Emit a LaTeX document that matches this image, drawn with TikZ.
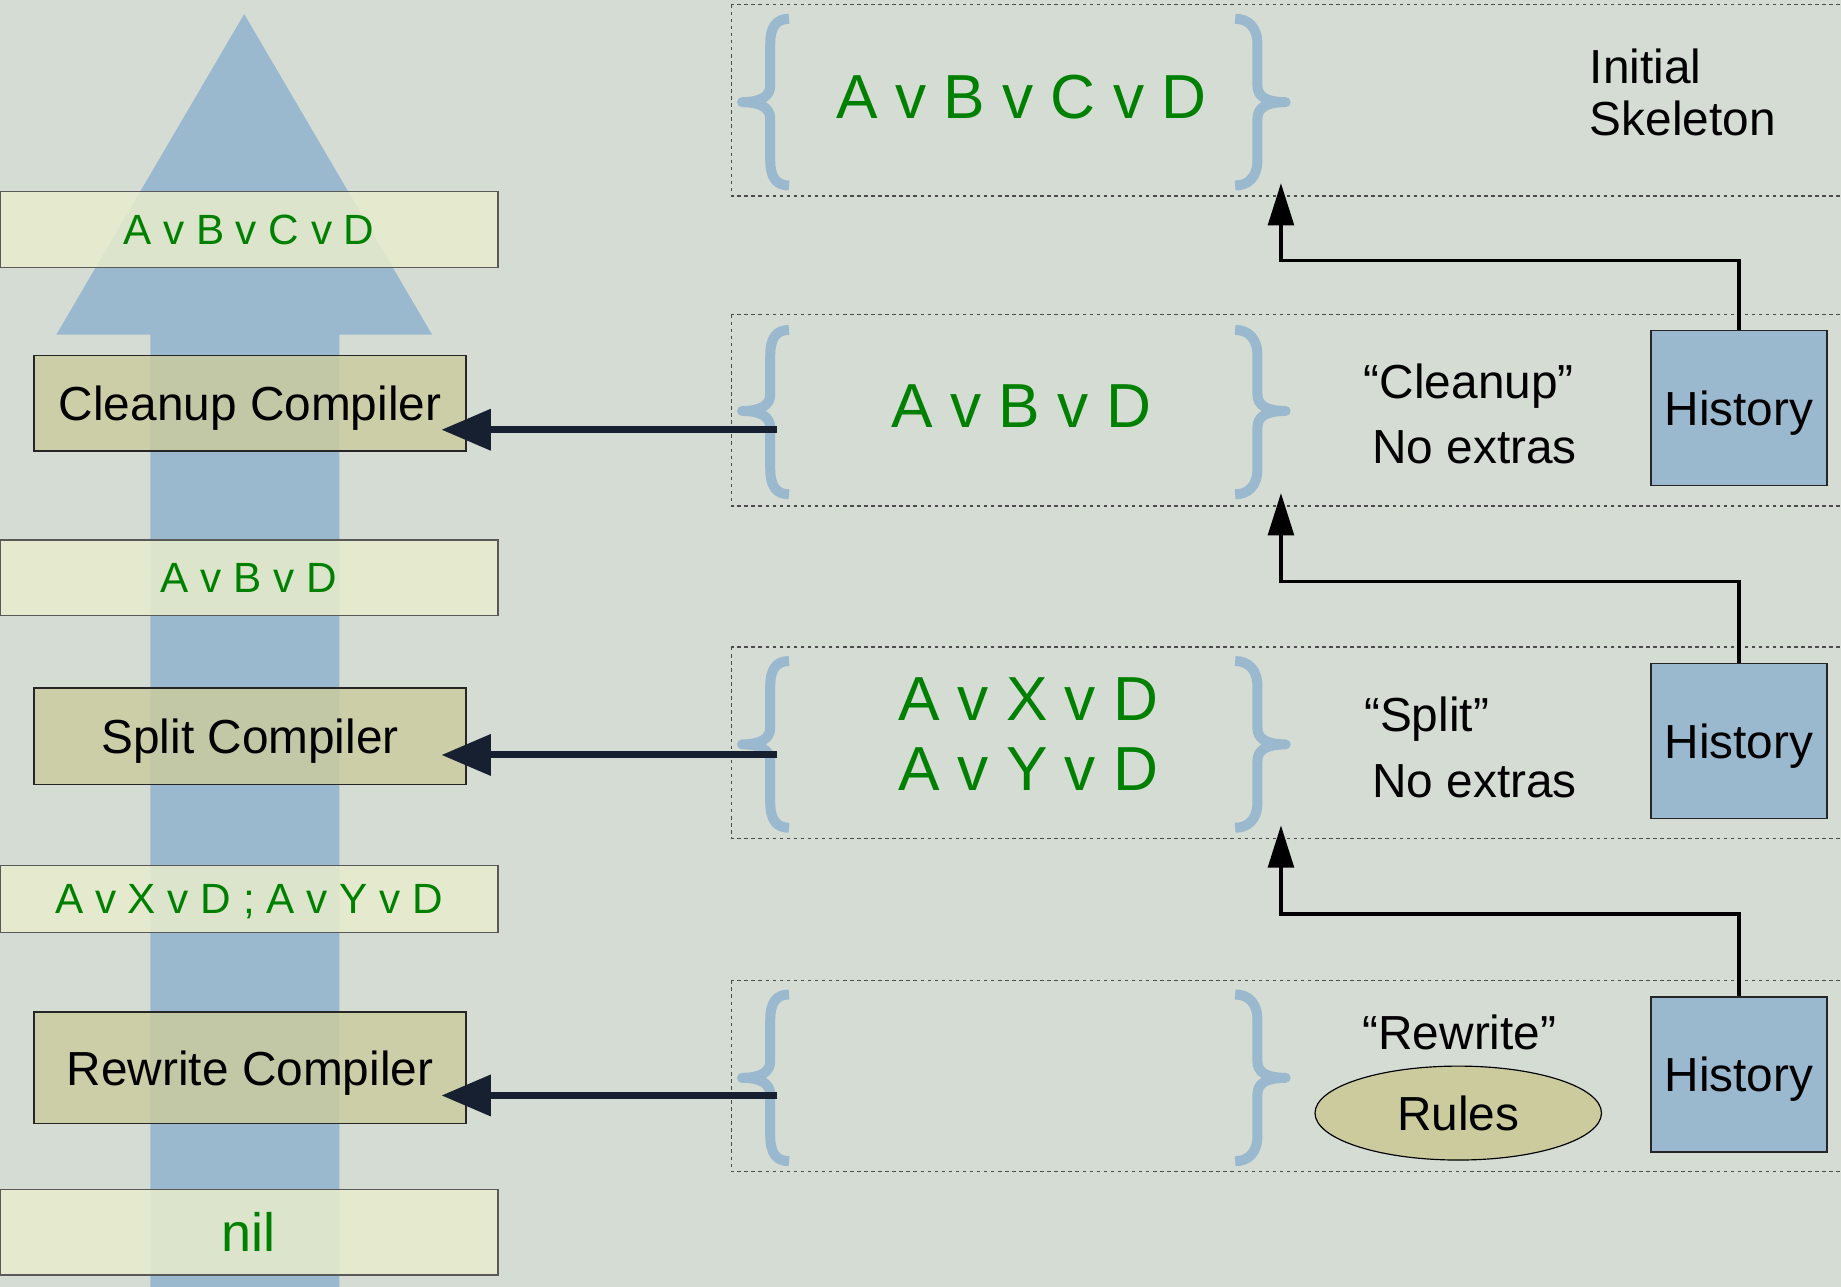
\documentclass[tikz,border=0pt]{standalone}
\usepackage{fontspec}
\setmainfont{Liberation Sans}
\usetikzlibrary{arrows.meta,shapes.geometric}
\definecolor{bgc}{RGB}{212,220,212}
\definecolor{arrblue}{RGB}{154,184,206}
\definecolor{ybg}{RGB}{233,236,204}
\definecolor{olivec}{RGB}{203,203,158}
\definecolor{grn}{RGB}{0,128,0}
\definecolor{navyc}{RGB}{22,32,48}
\newcommand\setfs[2]{\fontsize{#1}{#2}\selectfont}
\newcommand\LeftBr[3]{%
  \draw[bracestyle] (672,#1) .. controls (661,#1) and (656,{#1+7}) .. (656,{#1+22})
    -- (656,{#2-14}) .. controls (656,{#2-5}) and (648,#2) .. (632,#2)
    .. controls (648,#2) and (656,{#2+5}) .. (656,{#2+14})
    -- (656,{#3-22}) .. controls (656,{#3-7}) and (661,#3) .. (672,#3);}
\newcommand\RightBr[3]{%
  \draw[bracestyle] (1052,#1) .. controls (1063,#1) and (1071,{#1+7}) .. (1071,{#1+22})
    -- (1071,{#2-14}) .. controls (1071,{#2-5}) and (1078,#2) .. (1095,#2)
    .. controls (1078,#2) and (1071,{#2+5}) .. (1071,{#2+14})
    -- (1071,{#3-22}) .. controls (1071,{#3-7}) and (1063,#3) .. (1052,#3);}
\begin{document}
\begin{tikzpicture}[x=1pt,y=-1pt,
  ybox/.style={draw=black!65, line width=1.2pt, fill=ybg, fill opacity=0.85, text opacity=1,
     minimum width=424pt, inner sep=0pt, text=grn, text depth=0pt, font=\setfs{36}{42}},
  cbox/.style={draw=black!85, line width=1.2pt, fill=olivec, fill opacity=0.82, text opacity=1,
     minimum width=368pt, inner sep=0pt, text depth=0pt, font=\setfs{40.7}{46}},
  hist/.style={draw=black!85, line width=1.2pt, fill=arrblue, minimum width=150pt,
     minimum height=132pt, inner sep=0pt, text depth=0pt, font=\setfs{40.7}{46}},
  rowbox/.style={draw=black!70, line width=1pt, dash pattern=on 3pt off 3pt},
  bracestyle/.style={draw=arrblue, line width=8.5pt, line join=round},
  bigtxt/.style={text=grn, text depth=0pt, inner sep=0pt, font=\setfs{53}{60}},
  btxt/.style={text depth=0pt, inner sep=0pt, font=\setfs{40.7}{45}},
  uparr/.style={draw=black, line width=2.8pt, -{Triangle[length=36pt,width=22pt]}},
  leftarr/.style={draw=navyc, line width=6pt, -{Triangle[length=42pt,width=34pt]}}]
\useasboundingbox (0,0) rectangle (1568,1096);
\clip (0,0) rectangle (1568,1096);
\fill[bgc] (0,0) rectangle (1568,1096);
% big arrow
\fill[arrblue] (208,12) -- (368,285) -- (289,285) -- (289,1100) -- (128,1100) -- (128,285) -- (48,285) -- cycle;
% left boxes
\node[ybox, minimum height=65pt] (y1) at (212,195.5) {A v B v C v D};
\node[cbox, minimum height=81pt] (c1) at (213,343.5) {Cleanup Compiler};
\node[ybox, minimum height=64pt] (y2) at (212,492) {A v B v D};
\node[cbox, minimum height=82pt] (c2) at (213,627) {Split Compiler};
\node[ybox, minimum height=57pt] (y3) at (212,765.5) {A v X v D ; A v Y v D};
\node[cbox, minimum height=95pt] (c3) at (213,909.5) {Rewrite Compiler};
\node[ybox, minimum height=73pt, font=\setfs{46}{50}] (y4) at (212,1049.5) {nil};
% right rows
\draw[rowbox] (623,4) rectangle (1580,167);
\draw[rowbox] (623,268) rectangle (1580,431);
\draw[rowbox] (623,551) rectangle (1580,714);
\draw[rowbox] (623,835) rectangle (1580,998);
\LeftBr{16}{87}{158}
\RightBr{16}{87}{158}
\LeftBr{281}{350}{421}
\RightBr{281}{350}{421}
\LeftBr{563}{634}{705}
\RightBr{563}{634}{705}
\LeftBr{847}{918}{989}
\RightBr{847}{918}{989}
\node[bigtxt] (r1t) at (870,82) {A v B v C v D};
\node[bigtxt] (r2t) at (870,346) {A v B v D};
\node[bigtxt] (r3a) at (876,595) {A v X v D};
\node[bigtxt] (r3b) at (876,655) {A v Y v D};
\node[btxt, align=left, anchor=north west, text depth=] (init) at (1354,41) {Initial\\Skeleton};
\node[btxt] (cl) at (1251,325) {“Cleanup”};
\node[btxt] (ne1) at (1256,381) {No extras};
\node[btxt] (sp) at (1215,608) {“Split”};
\node[btxt] (ne2) at (1256,665) {No extras};
\node[btxt] (rw) at (1243,879) {“Rewrite”};
\node[ellipse, draw=black, line width=1pt, fill=olivec, minimum width=244pt, minimum height=80pt,
  inner sep=0pt, text depth=0pt, font=\setfs{40.7}{46}] (rules) at (1242,948) {Rules};
\node[hist] (h2) at (1481,347.5) {History};
\node[hist] (h3) at (1481,631) {History};
\node[hist] (h4) at (1481,915) {History};
% up connectors
\coordinate (t1) at (1091,156);
\coordinate (t2) at (1091,420);
\coordinate (t3) at (1091,703);
\draw[uparr] (h2.north) -- ++(0,-59) -| (t1);
\draw[uparr] (h3.north) -- ++(0,-69) -| (t2);
\draw[uparr] (h4.north) -- ++(0,-70) -| (t3);
% left connectors
\coordinate (s2) at (662,366);
\coordinate (e2) at (376,366);
\coordinate (s3) at (662,643);
\coordinate (e3) at (376,643);
\coordinate (s4) at (662,933);
\coordinate (e4) at (376,933);
\draw[leftarr] (s2) -- (e2);
\draw[leftarr] (s3) -- (e3);
\draw[leftarr] (s4) -- (e4);
\end{tikzpicture}
\end{document}
